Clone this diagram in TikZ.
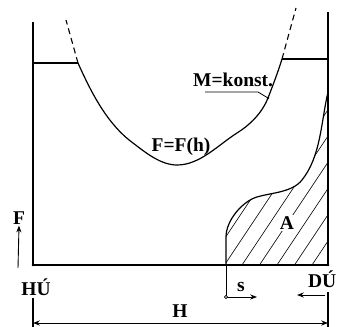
\documentclass[tikz,border=0pt]{standalone}
\usepackage{fontspec}
\setmainfont{Liberation Serif}
\usetikzlibrary{arrows.meta,calc}
\tikzset{
  frame/.style={line width=1.1pt,draw=black},
  curve/.style={line width=1.2pt,draw=black},
  ext/.style={line width=1.1pt,dash pattern=on 6pt off 4pt},
  lbl/.style={font=\fontsize{19.5}{22}\selectfont\bfseries,inner sep=1pt},
  fl/.style={-{Stealth[length=2.4mm,width=1.8mm]},line width=0.9pt},
  dim/.style={{Stealth[length=2.4mm,width=1.8mm]}-{Stealth[length=2.4mm,width=1.8mm]},line width=0.9pt},
  hatch/.style={line width=0.6pt}
}
\begin{document}
\begin{tikzpicture}[x=1pt,y=-1pt]
  \useasboundingbox (0,0) rectangle (338,327);
  % frame and plateaus
  \coordinate (ltop) at (33,22);
  \coordinate (rtop) at (328,12);
  \coordinate (hu) at (33,265);
  \coordinate (du) at (328,265);
  \coordinate (lpl) at (78,63);
  \coordinate (rpl) at (282,59);
  \draw[frame] (ltop) -- (hu) -- (du) -- (rtop);
  \draw[frame] (33,63) -- (lpl);
  \draw[frame] (rpl) -- (328,59);
  \draw[ext] (lpl) -- (66,20);
  \draw[ext] (rpl) -- (296,8);
  \fill (hu) circle (1.3pt); \fill (du) circle (1.3pt);
  % F = F(h)
  \coordinate (mpt) at (268,98);
  \draw[curve] (lpl) .. controls (91,92) and (107,124) .. (133,143)
    .. controls (146,153) and (161,165) .. (177,165)
    .. controls (200,165) and (218,145) .. (237,133)
    .. controls (250,125) and (262,113) .. (mpt)
    .. controls (273,85) and (278,72) .. (rpl);
  % area A
  \def\areaA{(226,265) -- (226,237) .. controls (226,220) and (243,201) .. (257,197)
    .. controls (272,192.5) and (292,192.5) .. (302,180)
    .. controls (321,156) and (321,122) .. (328,92) -- (328,265) -- cycle}
  \begin{scope}
    \clip \areaA;
    \foreach \x in {205,222.5,...,335}
      \draw[hatch] (\x,268) -- ++(120,-180);
  \end{scope}
  \draw[curve] (226,265) -- (226,237) .. controls (226,220) and (243,201) .. (257,197)
    .. controls (272,192.5) and (292,192.5) .. (302,180)
    .. controls (321,156) and (321,122) .. (328,92);
  % labels
  \node[lbl] (ffh) at (181,147) {F=F(h)};
  \node[lbl,anchor=base west] (mk) at (192,86) {M=konst.};
  \draw[line width=0.8pt] (205,92) -- (258,92) -- (mpt);
  \fill (mpt) circle (1.3pt);
  \node[lbl,fill=white,inner sep=2pt] (a) at (287,223) {A};
  \node[lbl] (hul) at (36,287) {HÚ};
  \node[lbl,anchor=east] (dul) at (337.5,279) {DÚ};
  \node[lbl] (fl) at (19,218) {F};
  \coordinate (f0) at (18,268);
  \draw[fl] (f0) -- (fl.south);
  % s and H
  \coordinate (s) at (226,265);
  \coordinate (s0) at (226,297);
  \node[lbl] (sl) at (241,287) {s};
  \draw[line width=0.9pt] (s) -- (s0);
  \draw[fl] (s0) -- ++(31,0);
  \draw[line width=0.8pt,fill=white] (s0) circle (1.6pt);
  \coordinate (r0) at (325,295);
  \draw[fl] (r0) -- ++(-28,0);
  \draw[frame] (33,298) -- (33,327);
  \draw[frame] (328,292) -- (328,327);
  \node[lbl] (hl) at (180,311) {H};
  \draw[dim] (33,323) -- (328,323);
\end{tikzpicture}
\end{document}
